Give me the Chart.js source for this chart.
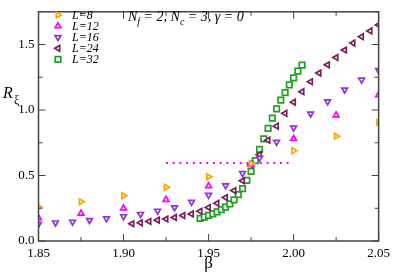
<!DOCTYPE html>
<html>
<head>
<meta charset="utf-8">
<script src="https://cdn.jsdelivr.net/npm/chart.js@4/dist/chart.umd.min.js"></script>
<style>
  html, body { margin: 0; padding: 0; background: #fff; }
  #c { display: block; }
</style>
</head>
<body>
<canvas id="c" width="395" height="274"></canvas>
<script>
// ─── data ────────────────────────────────────────────────────────────────────
const beta8  = [1.85, 1.875, 1.90, 1.925, 1.95, 1.975, 2.00, 2.025, 2.05];
const r8     = [0.26, 0.30, 0.346, 0.41, 0.49, 0.59, 0.69, 0.80, 0.905];

const beta12 = [1.85, 1.875, 1.90, 1.925, 1.95, 1.975, 2.00, 2.025, 2.05];
const r12    = [0.175, 0.21, 0.25, 0.315, 0.42, 0.585, 0.78, 0.96, 1.114];

const beta16 = [1.85, 1.86, 1.87, 1.88, 1.89, 1.90, 1.91, 1.92, 1.93, 1.94, 1.95,
                1.96, 1.97, 1.98, 1.99, 2.00, 2.01, 2.02, 2.03, 2.04, 2.05];
const r16    = [0.13, 0.14, 0.146, 0.159, 0.171, 0.188, 0.205, 0.23, 0.256, 0.297, 0.351,
                0.424, 0.517, 0.634, 0.756, 0.865, 0.972, 1.065, 1.155, 1.231, 1.304];

const beta24 = [1.905, 1.91, 1.915, 1.92, 1.925, 1.93, 1.935, 1.94, 1.945, 1.95,
                1.955, 1.96, 1.965, 1.97, 1.975, 1.98, 1.985, 1.99, 1.995, 2.00,
                2.005, 2.01, 2.015, 2.02, 2.025, 2.03, 2.035, 2.04, 2.045, 2.05];
const r24    = [0.132, 0.139, 0.149, 0.159, 0.168, 0.18, 0.194, 0.207, 0.227, 0.256,
                0.288, 0.332, 0.385, 0.46, 0.583, 0.66, 0.77, 0.877, 0.975, 1.06,
                1.14, 1.216, 1.282, 1.345, 1.401, 1.458, 1.511, 1.56, 1.604, 1.65];

const beta32 = [1.945, 1.9475, 1.95, 1.9525, 1.955, 1.9575, 1.96, 1.9625, 1.965, 1.9675,
                1.97, 1.9725, 1.975, 1.9775, 1.98, 1.9825, 1.985, 1.9875, 1.99, 1.9925,
                1.995, 1.9975, 2.00, 2.0025, 2.005];
const r32    = [0.173, 0.183, 0.195, 0.207, 0.222, 0.239, 0.259, 0.283, 0.314, 0.354,
                0.40, 0.463, 0.531, 0.614, 0.70, 0.78, 0.86, 0.938, 1.009, 1.075,
                1.133, 1.192, 1.246, 1.297, 1.343];

const lineBeta = [1.925, 2.00];
const lineR    = [0.595, 0.595];

const labels  = ['L=8', 'L=12', 'L=16', 'L=24', 'L=32'];
const xTicks  = [1.85, 1.90, 1.95, 2.00, 2.05];
const yTicks  = [0.0, 0.5, 1.0, 1.5];

const COLORS = {
  orange:  '#ffa500',
  magenta: '#ff00ff',
  violet:  '#8f35d8',
  maroon:  '#7a1f5c',
  green:   '#22a022',
  axis:    '#444',
};
const SERIF = '"Liberation Serif", "DejaVu Serif", serif';

const pts = (xs, ys) => xs.map((x, i) => ({ x, y: ys[i] }));

function markerSet(label, xs, ys, color, style, rot, radius) {
  return {
    label, data: pts(xs, ys),
    pointStyle: style, rotation: rot,
    pointRadius: radius, borderWidth: 1.7,
    borderColor: color, backgroundColor: '#fff',
    showLine: false,
  };
}

// ─── inward ticks, frame, legend, annotation ─────────────────────────────────
const decor = {
  id: 'decor',
  afterDatasetsDraw(chart) {
    const { ctx, chartArea: a, scales: { x, y } } = chart;
    ctx.save();
    ctx.strokeStyle = COLORS.axis;
    ctx.lineWidth = 1.5;
    ctx.strokeRect(a.left, a.top, a.right - a.left, a.bottom - a.top);

    ctx.lineWidth = 1;
    for (let i = 0; i <= 8; i++) {
      const v = 1.85 + i * 0.025;
      const px = x.getPixelForValue(v);
      const len = i % 2 === 0 ? 7 : 4;
      ctx.beginPath();
      ctx.moveTo(px, a.bottom); ctx.lineTo(px, a.bottom - len);
      ctx.moveTo(px, a.top);    ctx.lineTo(px, a.top + len);
      ctx.stroke();
    }
    for (let i = 0; i <= 7; i++) {
      const v = i * 0.25;
      const py = y.getPixelForValue(v);
      const len = i % 2 === 0 ? 7 : 4;
      ctx.beginPath();
      ctx.moveTo(a.left, py);  ctx.lineTo(a.left + len, py);
      ctx.moveTo(a.right, py); ctx.lineTo(a.right - len, py);
      ctx.stroke();
    }

    // legend
    chart.data.datasets.slice(0, 5).forEach((d, i) => {
      const cy = 15 + i * 11.1;
      ctx.fillStyle = '#fff';
      ctx.strokeStyle = d.borderColor;
      ctx.lineWidth = d.borderWidth;
      Chart.helpers.drawPoint(ctx, {
        pointStyle: d.pointStyle, rotation: d.rotation,
        radius: d.pointRadius, borderWidth: d.borderWidth,
      }, 58, cy);
      ctx.fillStyle = '#000';
      ctx.font = 'italic 12px ' + SERIF;
      ctx.textAlign = 'left';
      ctx.textBaseline = 'middle';
      ctx.fillText(labels[i], 72, cy + 0.5);
    });

    // annotation  N_f = 2, N_c = 3, γ = 0
    ctx.fillStyle = '#000';
    ctx.textBaseline = 'alphabetic';
    let tx = 128;
    const base = 21;
    const big = 'italic 14px ' + SERIF, sub = 'italic 10px ' + SERIF;
    const parts = [['N', big, 0], ['f', sub, 4], [' = 2, ', big, 0], ['N', big, 0],
                   ['c', sub, 4], [' = 3, \u03b3 = 0', big, 0]];
    parts.forEach(([s, f, dy]) => {
      ctx.font = f;
      ctx.fillText(s, tx, base + dy);
      tx += ctx.measureText(s).width;
    });

    // axis titles
    ctx.font = 'italic 16px ' + SERIF;
    ctx.fillText('R', 3, 98);
    ctx.font = '12px ' + SERIF;
    ctx.fillText('\u03be', 14, 104);
    ctx.font = '17px ' + SERIF;
    ctx.textAlign = 'center';
    ctx.fillText('\u03b2', x.getPixelForValue(1.95), 268);
    ctx.restore();
  },
};

new Chart(document.getElementById('c'), {
  type: 'scatter',
  data: {
    datasets: [
      markerSet(labels[0], beta8,  r8,  COLORS.orange,  'triangle', 90,  3.3),
      markerSet(labels[1], beta12, r12, COLORS.magenta, 'triangle', 0,   3.3),
      markerSet(labels[2], beta16, r16, COLORS.violet,  'triangle', 180, 3.3),
      markerSet(labels[3], beta24, r24, COLORS.maroon,  'triangle', 270, 3.3),
      markerSet(labels[4], beta32, r32, COLORS.green,   'rect',     0,   3.9),
      {
        label: 'crossing', data: pts(lineBeta, lineR), type: 'line',
        borderColor: COLORS.magenta, borderWidth: 2, borderDash: [2, 4.7],
        pointRadius: 0, fill: false,
      },
    ],
  },
  options: {
    responsive: false, animation: false,
    layout: { padding: { top: 2, right: 12, left: 0, bottom: 0 } },
    plugins: { legend: { display: false }, tooltip: { enabled: false } },
    scales: {
      x: {
        type: 'linear', min: 1.85, max: 2.05,
        afterFit: s => { s.height = 33; },
        afterBuildTicks: s => { s.ticks = xTicks.map(v => ({ value: v })); },
        grid: { display: false, drawTicks: false },
        border: { display: false },
        ticks: { padding: 5, color: '#000', font: { family: SERIF, size: 13 },
                 callback: v => v.toFixed(2), maxRotation: 0 },
      },
      y: {
        type: 'linear', min: 0, max: 1.75,
        afterFit: s => { s.width = 38.5; },
        afterBuildTicks: s => { s.ticks = yTicks.map(v => ({ value: v })); },
        grid: { display: false, drawTicks: false },
        border: { display: false },
        ticks: { padding: 4, color: '#000', font: { family: SERIF, size: 13 },
                 callback: v => v.toFixed(1) },
      },
    },
  },
  plugins: [decor],
});
</script>
</body>
</html>
